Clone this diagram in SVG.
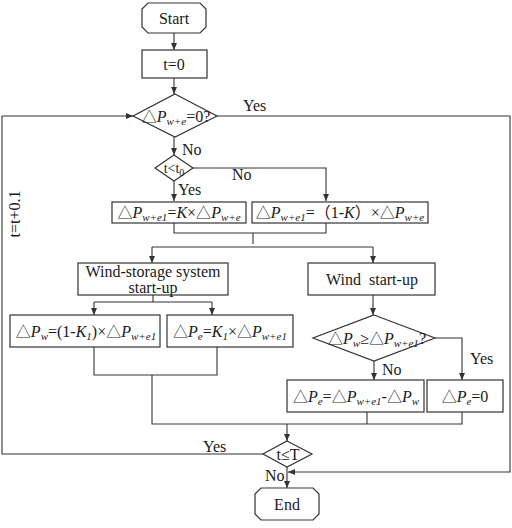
<svg xmlns="http://www.w3.org/2000/svg" width="512" height="528" viewBox="0 0 512 528">
<style>
.s{fill:#fff;stroke:#333;stroke-width:1.2}
.l{fill:none;stroke:#333;stroke-width:1.1}
text{font-family:"Liberation Serif","Times New Roman","DejaVu Serif","Noto Sans CJK SC",serif;font-size:16px;fill:#1a1a1a}
.c{text-anchor:middle}
.i{font-style:italic}
.sb{font-size:11px;font-style:italic}
.t{font-family:"Noto Sans CJK SC","DejaVu Sans",sans-serif;font-size:15px}
</style>
<defs>
<marker id="a" markerWidth="8" markerHeight="8" refX="7" refY="4" orient="auto" markerUnits="userSpaceOnUse">
<path d="M0,1 L7,4 L0,7 Z" fill="#333"/>
</marker>
</defs>
<rect width="512" height="528" fill="#fff"/>
<g id="connectors">
<path class="l" d="M174,33 V50" marker-end="url(#a)"/>
<path class="l" d="M174,78 V94" marker-end="url(#a)"/>
<path class="l" d="M2,116 H133" marker-end="url(#a)"/>
<path class="l" d="M174,137 V155" marker-end="url(#a)"/>
<path class="l" d="M217,116 H510 V472 H288" marker-end="url(#a)"/>
<path class="l" d="M174,181 V201" marker-end="url(#a)"/>
<path class="l" d="M193,168 H326 V201" marker-end="url(#a)"/>
<path class="l" d="M174,223 V233 H326 V223"/>
<path class="l" d="M253,233 V244"/>
<path class="l" d="M152,247 H373"/>
<path class="l" d="M152,247 V263" marker-end="url(#a)"/>
<path class="l" d="M373,247 V263" marker-end="url(#a)"/>
<path class="l" d="M153,295 V302"/>
<path class="l" d="M94,302 H212"/>
<path class="l" d="M94,302 V315" marker-end="url(#a)"/>
<path class="l" d="M212,302 V315" marker-end="url(#a)"/>
<path class="l" d="M94,347 V375 H217 V347"/>
<path class="l" d="M152,375 V424 H462 V412"/>
<path class="l" d="M367,412 V424"/>
<path class="l" d="M287,424 V441" marker-end="url(#a)"/>
<path class="l" d="M373,295 V315" marker-end="url(#a)"/>
<path class="l" d="M435,338 H462 V380" marker-end="url(#a)"/>
<path class="l" d="M374,361 V380" marker-end="url(#a)"/>
<path class="l" d="M263,454 H2 V116"/>
<path class="l" d="M287,467 V488" marker-end="url(#a)"/>
</g>
<g id="labels">
<text x="243" y="111">Yes</text>
<text x="182" y="155">No</text>
<text x="232" y="180">No</text>
<text x="178" y="195">Yes</text>
<text x="470" y="364">Yes</text>
<text x="382" y="375">No</text>
<text x="203" y="452">Yes</text>
<text x="265" y="481">No</text>
<text class="c" transform="translate(20,214) rotate(-90)">t=t+0.1</text>
</g>
<g id="start">
<polygon class="s" points="148,3 200,3 206,9 206,27 200,33 148,33 142,27 142,9"/>
<text class="c" x="174" y="24">Start</text>
</g>
<g id="t0">
<rect class="s" x="142" y="50" width="65" height="28"/>
<text class="c" x="174" y="70">t=0</text>
</g>
<g id="d1">
<polygon class="s" points="175,94 217,116 175,137 133,116"/>
<text class="c" x="176" y="122"><tspan class="t">△</tspan><tspan class="i">P</tspan><tspan class="sb" dy="3">w+e</tspan><tspan dy="-3">=0?</tspan></text>
</g>
<g id="d2">
<polygon class="s" points="174,155 193,168 174,181 155,168"/>
<text class="c" x="174" y="173" style="font-size:14px">t&lt;t<tspan style="font-size:10px" dy="3">0</tspan></text>
</g>
<g id="b1">
<rect class="s" x="112" y="202" width="134" height="21"/>
<text class="c" x="179" y="218"><tspan class="t">△</tspan><tspan class="i">P</tspan><tspan class="sb" dy="3">w+e1</tspan><tspan dy="-3">=</tspan><tspan class="i">K</tspan>×<tspan class="t">△</tspan><tspan class="i">P</tspan><tspan class="sb" dy="3">w+e</tspan></text>
</g>
<g id="b2">
<rect class="s" x="252" y="202" width="176" height="21"/>
<text class="c" x="340" y="218"><tspan class="t">△</tspan><tspan class="i">P</tspan><tspan class="sb" dy="3">w+e1</tspan><tspan dy="-3">=（1-</tspan><tspan class="i">K</tspan>）×<tspan class="t">△</tspan><tspan class="i">P</tspan><tspan class="sb" dy="3">w+e</tspan></text>
</g>
<g id="ws">
<rect class="s" x="78" y="263" width="150" height="32"/>
<text class="c" x="153" y="277">Wind-storage system</text>
<text class="c" x="153" y="293">start-up</text>
</g>
<g id="w">
<rect class="s" x="308" y="263" width="127" height="32"/>
<text class="c" x="372" y="285" xml:space="preserve">Wind  start-up</text>
</g>
<g id="b3">
<rect class="s" x="10" y="315" width="150" height="32"/>
<text class="c" x="86" y="337"><tspan class="t">△</tspan><tspan class="i">P</tspan><tspan class="sb" dy="3">w</tspan><tspan dy="-3">=(1-</tspan><tspan class="i">K</tspan><tspan class="sb" dy="3">1</tspan><tspan dy="-3">)×</tspan><tspan class="t">△</tspan><tspan class="i">P</tspan><tspan class="sb" dy="3">w+e1</tspan></text>
</g>
<g id="b4">
<rect class="s" x="167" y="315" width="126" height="32"/>
<text class="c" x="230" y="337"><tspan class="t">△</tspan><tspan class="i">P</tspan><tspan class="sb" dy="3">e</tspan><tspan dy="-3">=</tspan><tspan class="i">K</tspan><tspan class="sb" dy="3">1</tspan><tspan dy="-3">×</tspan><tspan class="t">△</tspan><tspan class="i">P</tspan><tspan class="sb" dy="3">w+e1</tspan></text>
</g>
<g id="d3">
<polygon class="s" points="374,315 435,338 374,361 313,338"/>
<text class="c" x="377" y="344"><tspan class="t">△</tspan><tspan class="i">P</tspan><tspan class="sb" dy="3">w</tspan><tspan dy="-3">≥</tspan><tspan class="t">△</tspan><tspan class="i">P</tspan><tspan class="sb" dy="3">w+e1</tspan><tspan dy="-3">?</tspan></text>
</g>
<g id="b5">
<rect class="s" x="287" y="380" width="137" height="32"/>
<text class="c" x="356" y="402"><tspan class="t">△</tspan><tspan class="i">P</tspan><tspan class="sb" dy="3">e</tspan><tspan dy="-3">=</tspan><tspan class="t">△</tspan><tspan class="i">P</tspan><tspan class="sb" dy="3">w+e1</tspan><tspan dy="-3">-</tspan><tspan class="t">△</tspan><tspan class="i">P</tspan><tspan class="sb" dy="3">w</tspan></text>
</g>
<g id="b6">
<rect class="s" x="427" y="380" width="76" height="32"/>
<text class="c" x="465" y="402"><tspan class="t">△</tspan><tspan class="i">P</tspan><tspan class="sb" dy="3">e</tspan><tspan dy="-3">=0</tspan></text>
</g>
<g id="d4">
<polygon class="s" points="287,441 312,454 287,467 263,454"/>
<text class="c" x="288" y="460">t≤T</text>
</g>
<g id="end">
<polygon class="s" points="261,488 313,488 319,494 319,514 313,520 261,520 255,514 255,494"/>
<text class="c" x="287" y="510">End</text>
</g>
</svg>
